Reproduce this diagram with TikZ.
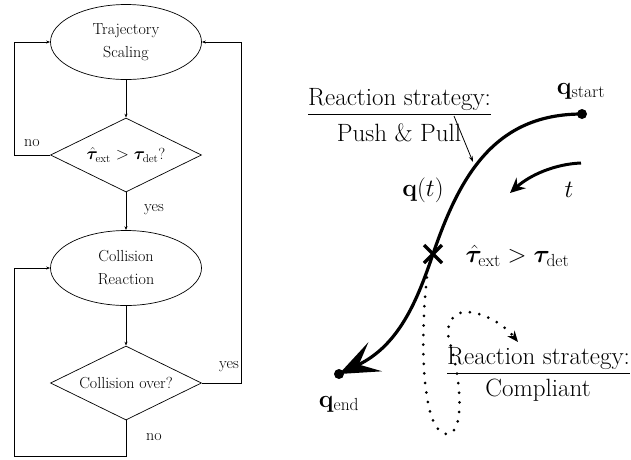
\documentclass[tikz,border=0pt]{standalone}
\usepackage{amsmath}
\usepackage{bm}
\usetikzlibrary{shapes.geometric,arrows.meta}
\tikzset{
  fc/.style={font=\fontsize{16}{23}\selectfont},
  ellbox/.style={ellipse,draw,line width=0.7pt,minimum width=151pt,minimum height=75pt,inner sep=0pt,align=center,fc},
  decbox/.style={diamond,draw,line width=0.7pt,minimum width=151pt,minimum height=74pt,inner sep=0pt,aspect=2,fc},
  flow/.style={line width=0.7pt,-{Stealth[length=4pt,width=3pt]}},
  lab/.style={fc,inner sep=1pt},
  big/.style={font=\fontsize{25}{29}\selectfont},
  rsbox/.style={big,inner xsep=0pt,inner ysep=4pt},
  dotbox/.style={circle,fill,inner sep=0pt,minimum size=10pt},
}
\begin{document}
\begin{tikzpicture}[x=1pt,y=-1pt]
\useasboundingbox (0,0) rectangle (631,459);
% flowchart
\node[ellbox] (ts) at (126,42) {Trajectory\\Scaling};
\node[decbox] (d1) at (126,155) {$\hat{\bm{\tau}}_{\text{ext}} > \bm{\tau}_{\text{det}}$?};
\node[ellbox] (cr) at (126,268) {Collision\\Reaction};
\node[decbox] (d2) at (126,383) {Collision over?};
\coordinate (l1) at (14,155);
\coordinate (r1) at (241,383);
\coordinate (b2) at (126,456);
\coordinate (l2) at (14,456);
\draw[flow] (ts) -- (d1);
\draw[flow] (d1) -- (cr);
\draw[flow] (cr) -- (d2);
\draw[flow] (d1.west) -- (l1) |- (ts.west);
\draw[flow] (d2.east) -- (r1) |- (ts.east);
\draw[flow] (d2.south) -- (b2) -- (l2) |- (cr.west);
\node[lab] (no1) at (32,143) {no};
\node[lab] (yes1) at (154,210) {yes};
\node[lab] (yes2) at (229,367) {yes};
\node[lab] (no2) at (154,437) {no};
% right side
\node[rsbox,anchor=base west] (rs1) at (308,105) {Reaction strategy:};
\draw[line width=1pt] (rs1.south west) -- (rs1.south east);
\node[big,anchor=base] (pp) at (399,141) {Push \& Pull};
\node[rsbox,anchor=base west] (rs2) at (447,364) {Reaction strategy:};
\draw[line width=1pt] (rs2.south west) -- (rs2.south east);
\node[big,anchor=base] (cp) at (538,396) {Compliant};
\node[dotbox] (qs) at (582,114) {};
\node[dotbox] (qe) at (339,374) {};
\coordinate (cross) at (433,254);
\node[big,anchor=base] (qsl) at (581,94) {$\mathbf{q}_{\text{start}}$};
\node[big,anchor=base] (qel) at (339,407) {$\mathbf{q}_{\text{end}}$};
\node[big] (qt) at (423,190) {$\mathbf{q}(t)$};
\node[big] (tl) at (569,190) {$t$};
\node[big,anchor=west] (tau) at (462,256) {$\hat{\bm{\tau}}_{\text{ext}} > \bm{\tau}_{\text{det}}$};
% trajectory
\draw[line width=3.2pt,-{Stealth[length=40pt,width=32pt,inset=18pt]}] (qs.center) .. controls (495,114) and (460,175) .. (cross) .. controls (418,298) and (400,345) .. (qe.center);
\draw[line width=3.5pt] (cross) +(-9,-9) -- +(9,9) (cross) +(-9,9) -- +(9,-9);
% thin pointer
\coordinate (p1) at (454,116);
\coordinate (p2) at (473,162);
\draw[line width=0.8pt,-{Stealth[length=6pt,width=4pt]}] (p1) -- (p2);
% time arrow
\coordinate (t1) at (581,163);
\coordinate (t2) at (510,193);
\draw[line width=3pt,-{Stealth[length=15pt,width=14pt,inset=5pt]}] (t1) .. controls (555,164) and (530,175) .. (t2);
% dotted compliant path
\draw[line width=3pt,line cap=round,dash pattern=on 0pt off 9.6pt,-{Stealth[length=11pt,width=9pt]}] (428,268) .. controls (420,330) and (420,430) .. (446,434) .. controls (465,436) and (462,380) .. (449,340) .. controls (445,326) and (452,312) .. (466,312) .. controls (485,312) and (505,326) .. (518,342);
\end{tikzpicture}
\end{document}
